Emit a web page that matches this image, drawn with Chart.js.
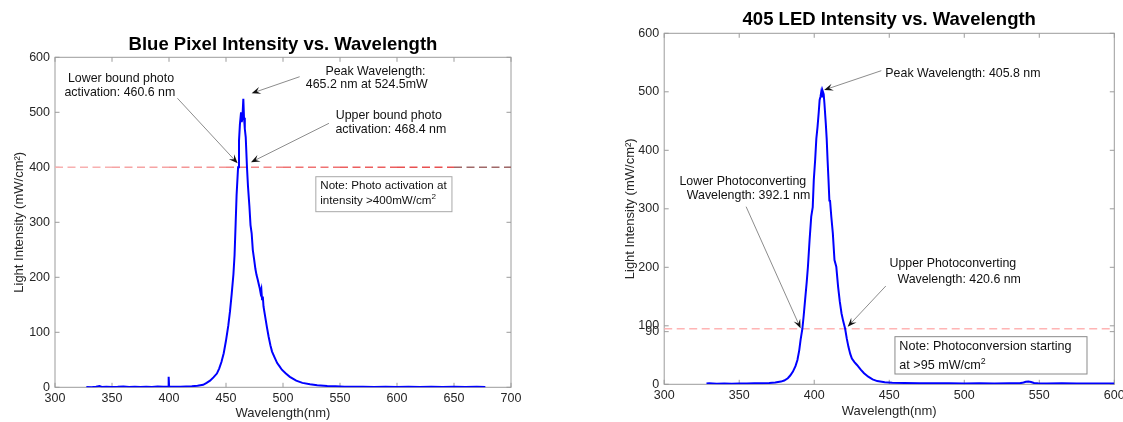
<!DOCTYPE html>
<html><head><meta charset="utf-8">
<script src="https://cdn.jsdelivr.net/npm/chart.js@4.4.1/dist/chart.umd.min.js"></script>
<style>
html,body{margin:0;padding:0;background:#fff;overflow:hidden;width:1123px;height:422px;}
.box{position:absolute;top:0;height:422px;}
</style></head><body>
<div class="box" style="left:0;width:560px"><canvas id="c1" width="560" height="422"></canvas></div>
<div class="box" style="left:560px;width:580px"><canvas id="c2" width="580" height="422"></canvas></div>
<script>
// ---------- data ----------
const blueWavelength = [327.5,332,336,339,341,345,350,355,360,365,370,375,380,385,390,395,399.3,399.7,400.1,405,410,415,420,425,430,433,436,439,442,444,446,448,450,452,453.5,455,456.5,457.5,458.5,459.3,460.6,461.4,462.2,463.2,463.8,464.4,465.2,465.8,466.5,467.3,468.4,469.3,470.5,471.5,472.5,473.5,474.7,475.8,476.8,477.8,478.9,479.6,480.3,481,481.6,482.3,482.9,484.4,486,487.4,489,490.4,492.5,494.9,497,499,502.5,506,511.6,517,523.7,530,538.8,546,553.9,560,570,580,590,600,610,620,630,640,650,660,670,677.5];
const blueIntensity  = [0.5,0.3,1.2,2.5,0.5,1,0.4,0.8,1.5,0.6,1,0.4,1.2,0.7,1.3,0.8,1,19,1.5,0.8,1.2,1.5,2,2.8,4.5,8,12,18,25,34,46,62,85,112,138,170,205,240,300,350,400,448,478,500,482,490,524.5,490,470,455,400,365,330,295,280,250,232,215,204,196,186,180,172,178,160,165,147,128,108,92,76,65,55,44,38,32,25,19,12,8,5.5,3.8,2.4,1.8,1.2,0.8,1,0.5,0.9,0.6,1,0.5,0.8,0.6,1,0.5,0.8,0.6];
const ledWavelength = [328.2,330,335,340,345,350,355,360,365,370,374,377.8,380,382.4,384,385.8,387.5,388.8,390,390.9,392.1,393,393.9,395,395.8,396.9,398,399,399.7,400.6,401.4,402.2,403,403.6,404.2,404.7,405.3,405.8,406.3,406.8,407.7,408.3,408.9,409.5,410.1,410.5,411.4,412.4,413.5,414.7,415.9,417,418.2,419.3,420.6,421.7,422.8,424,425.1,426.8,428.5,431,433.2,436,438.9,442,447,452,460,470,480,490,500,510,520,530,537,539.5,541,542.8,544.5,546.5,549,555,565,575,585,595,600];
const ledIntensity  = [1.5,2,1,1.2,1,1.5,1.3,1.8,1.6,2.2,3,4.6,6.5,10.3,15,21.7,31,41.6,58,75.8,95,118,144,175,201,246.7,286.6,303,349,383,420,440,465,486,492,500,492,500,496,480,446,420,383,350,314,315,286,258,212.5,201,167,142,121,108,95,78,64,52,44,38,33,25,19,13,8.5,5.5,3.4,2.6,2.2,1.8,2,1.6,1.5,1.8,1.4,1.7,1.9,3.2,4.4,4.6,4,2.2,1.6,1.5,1.8,1.4,1.3,1.5,1.2];

const blueXTicks = [300,350,400,450,500,550,600,650,700];
const blueYTicks = [0,100,200,300,400,500,600];
const ledXTicks  = [300,350,400,450,500,550,600];
const ledYTicks  = [0,90,100,200,300,400,500,600];
const blueThreshold = 400;
const ledThreshold = 95;

// ---------- annotations (data coordinates) ----------
const blueNotes = {
  texts: [
    {t:'Lower bound photo', x:357.9, y:561.8, align:'center'},
    {t:'activation: 460.6 nm', x:356.9, y:536.4, align:'center'},
    {t:'Peak Wavelength:', x:581.1, y:573.8, align:'center'},
    {t:'465.2 nm at 524.5mW', x:573.5, y:549.6, align:'center'},
    {t:'Upper bound photo', x:592.8, y:493.3, align:'center'},
    {t:'activation: 468.4 nm', x:594.6, y:469.1, align:'center'},
    {t:'Note: Photo activation at', x:532.7, y:366.5, align:'left', size:11.6},
    {t:'intensity >400mW/cm^2', x:532.7, y:339.3, align:'left', size:11.6}
  ],
  arrows: [
    {from:[407.4,525.5], to:[460.2,407.3]},
    {from:[514.6,564.7], to:[472.5,534.5]},
    {from:[540.3,480.0], to:[471.9,409.1]}
  ],
  boxes: [ {x0:528.8, y0:382.9, x1:648.2, y1:319.3, color:'#a8a8a8'} ]
};
const ledNotes = {
  texts: [
    {t:'Peak Wavelength: 405.8 nm', x:447.4, y:531.6, align:'left'},
    {t:'Lower Photoconverting', x:352.4, y:346.3, align:'center'},
    {t:'Wavelength: 392.1 nm', x:356.2, y:321.9, align:'center'},
    {t:'Upper Photoconverting', x:492.4, y:205.6, align:'center'},
    {t:'Wavelength: 420.6 nm', x:496.6, y:179.5, align:'center'},
    {t:'Note: Photoconversion starting', x:456.7, y:64.3, align:'left', size:12.6},
    {t:'at >95 mW/cm^2', x:456.7, y:31.3, align:'left', size:12.6}
  ],
  arrows: [
    {from:[444.7,536.1], to:[406.6,503.1]},
    {from:[354.6,303.6], to:[390.9,95.7]},
    {from:[447.7,168.0], to:[422.3,98.5]}
  ],
  boxes: [ {x0:453.8, y0:81.4, x1:581.8, y1:17.6, color:'#8a8a8a'} ]
};

const FONT = "'Liberation Sans', Arial, Helvetica, sans-serif";
const NOTE_SIZE = 12.4;

function drawRich(ctx, text, x, y, align, size) {
  const parts = [];
  for (let i = 0; i < text.length; i++) {
    if (text[i] === '^' && i + 1 < text.length) { parts.push({s:text[i+1], sup:true}); i++; }
    else {
      if (parts.length && !parts[parts.length-1].sup) parts[parts.length-1].s += text[i];
      else parts.push({s:text[i], sup:false});
    }
  }
  const supSize = size * 0.7;
  let total = 0;
  parts.forEach(p => { ctx.font = (p.sup ? supSize : size) + 'px ' + FONT; p.w = ctx.measureText(p.s).width; total += p.w; });
  let cx = align === 'center' ? x - total / 2 : (align === 'right' ? x - total : x);
  ctx.textAlign = 'left';
  ctx.textBaseline = 'middle';
  parts.forEach(p => {
    ctx.font = (p.sup ? supSize : size) + 'px ' + FONT;
    ctx.fillText(p.s, cx, p.sup ? y - size * 0.38 : y);
    cx += p.w;
  });
}

function drawArrow(ctx, x1, y1, x2, y2) {
  const dx = x2 - x1, dy = y2 - y1, len = Math.hypot(dx, dy);
  const ux = dx / len, uy = dy / len, nx = -uy, ny = ux;
  const L = 9, W = 3.6;
  ctx.strokeStyle = '#6e6e6e';
  ctx.lineWidth = 0.8;
  ctx.beginPath();
  ctx.moveTo(x1, y1);
  ctx.lineTo(x2 - ux * L * 0.6, y2 - uy * L * 0.6);
  ctx.stroke();
  ctx.fillStyle = '#111';
  ctx.beginPath();
  ctx.moveTo(x2, y2);
  ctx.lineTo(x2 - ux * L + nx * W, y2 - uy * L + ny * W);
  ctx.lineTo(x2 - ux * L * 0.6, y2 - uy * L * 0.6);
  ctx.lineTo(x2 - ux * L - nx * W, y2 - uy * L - ny * W);
  ctx.closePath();
  ctx.fill();
}

function framePlugin(xt, yt, title, titleY) {
  return {
    id: 'frame',
    beforeDatasetsDraw(chart) {
      const {ctx, chartArea: a, scales: {x, y}} = chart;
      ctx.save();
      ctx.strokeStyle = '#9c9c9c';
      ctx.lineWidth = 1;
      ctx.strokeRect(a.left, a.top, a.right - a.left, a.bottom - a.top);
      const T = 4.5;
      ctx.beginPath();
      xt.forEach(v => {
        const px = x.getPixelForValue(v);
        ctx.moveTo(px, a.bottom); ctx.lineTo(px, a.bottom - T);
        ctx.moveTo(px, a.top); ctx.lineTo(px, a.top + T);
      });
      yt.forEach(v => {
        const py = y.getPixelForValue(v);
        ctx.moveTo(a.left, py); ctx.lineTo(a.left + T, py);
        ctx.moveTo(a.right, py); ctx.lineTo(a.right - T, py);
      });
      ctx.stroke();
      ctx.fillStyle = '#000';
      ctx.font = 'bold 18.5px ' + FONT;
      ctx.textAlign = 'center';
      ctx.textBaseline = 'middle';
      ctx.fillText(title, (a.left + a.right) / 2, titleY);
      ctx.restore();
    }
  };
}

function notesPlugin(notes) {
  return {
    id: 'notes',
    afterDatasetsDraw(chart) {
      const {ctx, scales: {x, y}} = chart;
      ctx.save();
      notes.boxes.forEach(b => {
        const X0 = x.getPixelForValue(b.x0), X1 = x.getPixelForValue(b.x1);
        const Y0 = y.getPixelForValue(b.y0), Y1 = y.getPixelForValue(b.y1);
        ctx.fillStyle = '#fff';
        ctx.fillRect(X0, Y0, X1 - X0, Y1 - Y0);
        ctx.strokeStyle = b.color;
        ctx.lineWidth = 1;
        ctx.strokeRect(X0, Y0, X1 - X0, Y1 - Y0);
      });
      notes.arrows.forEach(a => {
        drawArrow(ctx, x.getPixelForValue(a.from[0]), y.getPixelForValue(a.from[1]),
                       x.getPixelForValue(a.to[0]), y.getPixelForValue(a.to[1]));
      });
      ctx.fillStyle = '#111';
      notes.texts.forEach(t => {
        drawRich(ctx, t.t, x.getPixelForValue(t.x), y.getPixelForValue(t.y), t.align, t.size || NOTE_SIZE);
      });
      ctx.restore();
    }
  };
}

function makeChart(id, cfg) {
  const curve = cfg.wl.map((w, i) => ({x: w, y: cfg.val[i]}));
  const xMin = cfg.xt[0], xMax = cfg.xt[cfg.xt.length - 1];
  const yMin = cfg.yt[0], yMax = cfg.yt[cfg.yt.length - 1];
  const thrLine = cfg.xt.map(v => ({x: v, y: cfg.thr}));
  return new Chart(document.getElementById(id), {
    type: 'line',
    data: {
      datasets: [
        {data: curve, borderColor: '#0000ff', borderWidth: 2, pointRadius: 0, tension: 0, fill: false},
        {data: thrLine, borderColor: cfg.thrColor, segment: cfg.thrSegment,
         borderWidth: 1.6, borderDash: [8, 4.5], pointRadius: 0, fill: false}
      ]
    },
    options: {
      responsive: false,
      animation: false,
      events: [],
      layout: {padding: cfg.pad},
      plugins: {
        legend: {display: false},
        tooltip: {enabled: false},
        title: {display: false}
      },
      scales: {
        x: {
          type: 'linear', min: xMin, max: xMax,
          afterBuildTicks: s => { s.ticks = cfg.xt.map(v => ({value: v})); },
          afterFit: s => { s.height = cfg.xH; },
          grid: {display: false, drawTicks: false},
          border: {display: false},
          ticks: {color: '#262626', font: {family: FONT, size: 12.5}, padding: 4, maxRotation: 0, autoSkip: false},
          title: {display: true, text: 'Wavelength(nm)', color: '#262626',
                  font: {family: FONT, size: 13}, padding: {top: 0, bottom: cfg.xTitlePad}}
        },
        y: {
          type: 'linear', min: yMin, max: yMax,
          afterBuildTicks: s => { s.ticks = cfg.yt.map(v => ({value: v})); },
          afterFit: s => { s.width = cfg.yW; },
          grid: {display: false, drawTicks: false},
          border: {display: false},
          ticks: {color: '#262626', font: {family: FONT, size: 12.5}, padding: 5, autoSkip: false},
          title: {display: true, text: 'Light Intensity (mW/cm²)', color: '#262626',
                  font: {family: FONT, size: 13}, padding: {top: cfg.yTitlePad, bottom: 0}}
        }
      }
    },
    plugins: [framePlugin(cfg.xt, cfg.yt, cfg.title, cfg.titleY), notesPlugin(cfg.notes)]
  });
}

// left threshold: light pink on the left, shading to red, grey at the far right end
const blueThrShades = ['#f8b0b0','#f6a4a4','#f49696','#f28686','#ef7272','#ec5e5e','#e85050','#a06868'];

makeChart('c1', {
  wl: blueWavelength, val: blueIntensity, xt: blueXTicks, yt: blueYTicks,
  thr: blueThreshold,
  thrColor: '#ef7070',
  thrSegment: {borderColor: c => blueThrShades[c.p0DataIndex] || '#ef7070'},
  title: 'Blue Pixel Intensity vs. Wavelength', titleY: 45,
  pad: {left: 0, right: 49, top: 57.3, bottom: 0},
  xH: 34.7, yW: 55, xTitlePad: 0.9, yTitlePad: 12,
  notes: blueNotes
});

makeChart('c2', {
  wl: ledWavelength, val: ledIntensity, xt: ledXTicks, yt: ledYTicks,
  thr: ledThreshold, thrColor: '#ffb4b4', thrSegment: undefined,
  title: '405 LED Intensity vs. Wavelength', titleY: 20,
  pad: {left: 50, right: 25.7, top: 33.3, bottom: 0},
  xH: 37.7, yW: 54.2, xTitlePad: 2.5, yTitlePad: 12.9,
  notes: ledNotes
});
</script>
</body></html>
